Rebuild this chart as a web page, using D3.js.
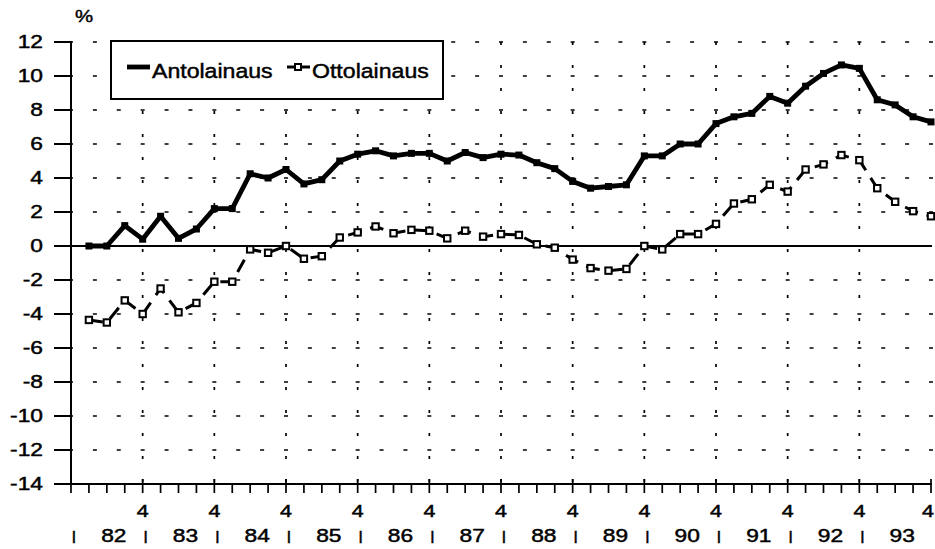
<!DOCTYPE html>
<html>
<head>
<meta charset="utf-8">
<script src="https://cdn.jsdelivr.net/npm/d3@7"></script>
<style>
    body { margin: 0; background: #fff; }
    text { font-family: "Liberation Sans", Arial, sans-serif; fill: #000; stroke: #000; stroke-width: 0.45px; }
</style>
</head>
<body>
<svg id="chart" width="935" height="549"></svg>
<script>
// quarterly values 1982Q1 .. 1993Q4
const antolainaus = [
    0.0, 0.0, 1.2, 0.4,
    1.75, 0.45, 1.0, 2.2,
    2.2, 4.25, 4.0, 4.5,
    3.65, 3.9, 5.0, 5.4,
    5.6, 5.3, 5.45, 5.45,
    5.0, 5.5, 5.2, 5.4,
    5.35, 4.9, 4.55, 3.8,
    3.4, 3.5, 3.6, 5.3,
    5.3, 6.0, 6.0, 7.2,
    7.6, 7.8, 8.8, 8.4,
    9.4, 10.15, 10.65, 10.45,
    8.6, 8.3, 7.6, 7.3
]
const ottolainaus = [
    -4.35, -4.5, -3.2, -4.0,
    -2.5, -3.9, -3.35, -2.1,
    -2.1, -0.2, -0.4, 0.0,
    -0.75, -0.6, 0.5, 0.8,
    1.15, 0.75, 0.95, 0.9,
    0.45, 0.9, 0.55, 0.7,
    0.65, 0.1, -0.1, -0.8,
    -1.3, -1.45, -1.35, 0.0,
    -0.2, 0.7, 0.7, 1.3,
    2.5, 2.75, 3.6, 3.2,
    4.5, 4.8, 5.35, 5.05,
    3.4, 2.6, 2.05, 1.75
]
const years = ['82', '83', '84', '85', '86', '87', '88', '89', '90', '91', '92', '93']
const yTicks = [12, 10, 8, 6, 4, 2, 0, -2, -4, -6, -8, -10, -12, -14]
const seriesNames = ['Antolainaus', 'Ottolainaus']

const style = {
    l: 71, r: 931, t: 42, b: 484,
    stretch: 1.3
}

const svg = d3.select('#chart')

// quarter 0 = 1981Q4 (left axis), quarter 48 = 1993Q4
const x = d3.scaleLinear().domain([0, years.length * 4]).range([style.l, style.r])
const y = d3.scaleLinear().domain([-14, 12]).range([style.b, style.t])

function stretchText(root, str, tx, ty, size, anchor, sx) {
    return root.append('text')
        .attr('transform', 'translate(' + [tx, ty] + ') scale(' + sx + ',1)')
        .attr('text-anchor', anchor)
        .style('font-size', size + 'px')
        .text(str)
}

// grid
const gridG = svg.append('g')
gridG.selectAll(null)
    .data(yTicks.filter(d => d != 0 && d != -14))
    .enter()
    .append('line')
    .attr('x1', style.l).attr('x2', style.r + 2)
    .attr('y1', d => y(d)).attr('y2', d => y(d))
    .attr('stroke', '#000')
    .attr('stroke-width', 1.7)
    .attr('stroke-dasharray', '4,' + (x(4) - x(0) - 12) / 3)
    .attr('stroke-dashoffset', -((x(4) - x(0)) / 3 - 2))

gridG.selectAll(null)
    .data(d3.range(1, years.length))
    .enter()
    .append('line')
    .attr('x1', d => x(d * 4)).attr('x2', d => x(d * 4))
    .attr('y1', style.t).attr('y2', style.b)
    .attr('stroke', '#000')
    .attr('stroke-width', 1.7)
    .attr('stroke-dasharray', '3,20')

// zero line
svg.append('line')
    .attr('x1', style.l).attr('x2', style.r + 1)
    .attr('y1', y(0)).attr('y2', y(0))
    .attr('stroke', '#000')
    .attr('stroke-width', 2)

// y axis
const yAxisG = svg.append('g')
yAxisG.append('line')
    .attr('x1', style.l).attr('x2', style.l)
    .attr('y1', style.t).attr('y2', style.b)
    .attr('stroke', '#000').attr('stroke-width', 2)
yAxisG.selectAll('.yTick')
    .data(yTicks)
    .enter()
    .append('line')
    .attr('x1', style.l - 17).attr('x2', style.l + 1)
    .attr('y1', d => y(d)).attr('y2', d => y(d))
    .attr('stroke', '#000').attr('stroke-width', 2)
yTicks.forEach(d => {
    stretchText(yAxisG, d, 43, y(d) + 6, 17.5, 'end', style.stretch)
})
stretchText(yAxisG, '%', 84, 22, 17, 'middle', 1.2)

// x axis
const xAxisG = svg.append('g')
xAxisG.append('line')
    .attr('x1', style.l).attr('x2', style.r + 1)
    .attr('y1', style.b).attr('y2', style.b)
    .attr('stroke', '#000').attr('stroke-width', 2)
xAxisG.selectAll('.xTick')
    .data(d3.range(0, years.length * 4 + 1))
    .enter()
    .append('line')
    .attr('x1', d => x(d)).attr('x2', d => x(d))
    .attr('y1', d => d % 4 == 0 ? style.b - 5 : style.b)
    .attr('y2', style.b + 9)
    .attr('stroke', '#000').attr('stroke-width', 1.7)
years.forEach((yr, i) => {
    // last label pulled in so it stays on the page
    let qx = Math.min(x(i * 4 + 4), 928)
    stretchText(xAxisG, '4', qx, 517, 16.5, 'middle', style.stretch)
    stretchText(xAxisG, yr, x(i * 4 + 2) + 7, 542, 17.5, 'middle', style.stretch)
    stretchText(xAxisG, 'l', x(i * 4) + 3, 543, 17, 'middle', 1)
})

// series
const line = d3.line()
    .x((d, i) => x(i + 1))
    .y(d => y(d))

svg.append('path')
    .datum(ottolainaus)
    .attr('d', line)
    .attr('fill', 'none')
    .attr('stroke', '#000')
    .attr('stroke-width', 3)
    .attr('stroke-dasharray', '14,9')

svg.selectAll('.ottoMark')
    .data(ottolainaus)
    .enter()
    .append('rect')
    .attr('x', (d, i) => x(i + 1) - 3.2)
    .attr('y', d => y(d) - 3.2)
    .attr('width', 6.4).attr('height', 6.4)
    .attr('fill', '#fff')
    .attr('stroke', '#000')
    .attr('stroke-width', 2)

svg.append('path')
    .datum(antolainaus)
    .attr('d', line)
    .attr('fill', 'none')
    .attr('stroke', '#000')
    .attr('stroke-width', 4.8)
    .attr('stroke-linejoin', 'round')

svg.selectAll('.antoMark')
    .data(antolainaus)
    .enter()
    .append('rect')
    .attr('x', (d, i) => x(i + 1) - 3.5)
    .attr('y', d => y(d) - 3.5)
    .attr('width', 7).attr('height', 7)
    .attr('fill', '#000')

// legend
const legendG = svg.append('g')
legendG.append('rect')
    .attr('x', 111).attr('y', 41)
    .attr('width', 332).attr('height', 58)
    .attr('fill', '#fff')
    .attr('stroke', '#000')
    .attr('stroke-width', 2)

legendG.append('line')
    .attr('x1', 127).attr('x2', 150)
    .attr('y1', 67).attr('y2', 67)
    .attr('stroke', '#000').attr('stroke-width', 4.8)
stretchText(legendG, seriesNames[0], 152, 78, 21, 'start', 1.1)

legendG.append('line')
    .attr('x1', 287).attr('x2', 310)
    .attr('y1', 67).attr('y2', 67)
    .attr('stroke', '#000').attr('stroke-width', 3)
legendG.append('rect')
    .attr('x', 295).attr('y', 64)
    .attr('width', 6).attr('height', 6)
    .attr('fill', '#fff').attr('stroke', '#000').attr('stroke-width', 2)
stretchText(legendG, seriesNames[1], 312, 78, 21, 'start', 1.1)
</script>
</body>
</html>
